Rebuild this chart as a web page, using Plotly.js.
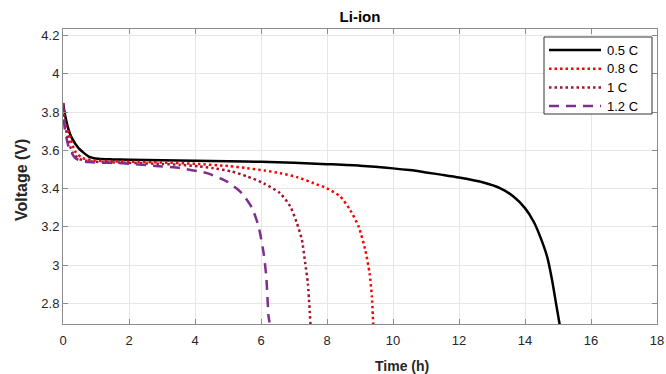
<!DOCTYPE html>
<html>
<head>
<meta charset="utf-8">
<script src="https://cdn.plot.ly/plotly-3.0.1.min.js"></script>
<style>html,body{margin:0;padding:0;background:#fff}#chart{width:666px;height:374px}</style>
</head>
<body>
<div id="chart"></div>
<script>
// Time (h) and voltage (V)
const t05 = [0, 0.07, 0.17, 0.27, 0.47, 0.78, 1.08, 1.5, 2, 3, 4, 5, 6, 7, 8, 9, 10, 10.5, 11, 11.5, 12, 12.74, 13.24, 13.65, 14.0, 14.26, 14.46, 14.67, 14.82, 14.94, 15.05];
const v05 = [3.848, 3.778, 3.708, 3.664, 3.612, 3.568, 3.556, 3.553, 3.551, 3.549, 3.546, 3.543, 3.54, 3.535, 3.528, 3.52, 3.506, 3.497, 3.485, 3.472, 3.458, 3.432, 3.403, 3.359, 3.298, 3.228, 3.149, 3.044, 2.922, 2.8, 2.69];

const t08 = [0, 0.05, 0.17, 0.37, 0.58, 0.9, 1.5, 2, 3, 4, 5, 5.58, 6.1, 6.58, 7.1, 7.6, 8.0, 8.4, 8.7, 8.96, 9.16, 9.29, 9.36, 9.4];
const v08 = [3.848, 3.76, 3.69, 3.594, 3.561, 3.548, 3.543, 3.541, 3.537, 3.53, 3.518, 3.507, 3.495, 3.481, 3.46, 3.428, 3.402, 3.359, 3.289, 3.201, 3.079, 2.957, 2.835, 2.69];

const t10 = [0, 0.05, 0.15, 0.3, 0.5, 0.8, 1.2, 2, 3, 3.56, 4.1, 4.56, 5.1, 5.58, 6.08, 6.58, 6.89, 7.09, 7.24, 7.34, 7.42, 7.5];
const v10 = [3.848, 3.75, 3.66, 3.585, 3.555, 3.543, 3.539, 3.535, 3.529, 3.525, 3.517, 3.507, 3.49, 3.464, 3.428, 3.376, 3.306, 3.219, 3.132, 3.01, 2.905, 2.69];

const t12 = [0, 0.05, 0.17, 0.37, 0.6, 1.0, 1.79, 2.8, 3.56, 4.36, 4.97, 5.42, 5.73, 5.93, 6.08, 6.16, 6.23, 6.26];
const v12 = [3.848, 3.72, 3.62, 3.56, 3.543, 3.537, 3.533, 3.519, 3.507, 3.481, 3.437, 3.376, 3.298, 3.2, 3.062, 2.94, 2.73, 2.70];

const seriesNames = ['0.5 C', '0.8 C', '1 C', '1.2 C'];
const xTicks = [0, 2, 4, 6, 8, 10, 12, 14, 16, 18];
const xTickText = ['0', '2', '4', '6', '8', '10', '12', '14', '16', '18'];
const yTicks = [2.8, 3, 3.2, 3.4, 3.6, 3.8, 4, 4.2];
const yTickText = ['2.8', '3', '3.2', '3.4', '3.6', '3.8', '4', '4.2'];

const FONT = 'Liberation Sans, Arial, Helvetica, sans-serif';
const AX = '#8c8c8c';
const W = 666, H = 374, ML = 63, MR = 9, MT = 29, MB = 50;
const PW = W - ML - MR, PH = H - MT - MB;
const px = x => (x - ML) / PW;          // pixel -> paper x
const py = y => 1 - (y - MT) / PH;      // pixel -> paper y

const styles = [
  {color: '#000000', width: 2.5},
  {color: '#ff0000', width: 2.5, dash: '2.5px,3px'},
  {color: '#a2142f', width: 2.5, dash: '2.5px,3px'},
  {color: '#7e2f8e', width: 2.5, dash: '10px,7px'}
];
const xs = [t05, t08, t10, t12], ys = [v05, v08, v10, v12];

const traces = xs.map((x, i) => ({
  x: x, y: ys[i], name: seriesNames[i], mode: 'lines',
  line: Object.assign({shape: 'spline', smoothing: 0.6}, styles[i]),
  showlegend: false, hoverinfo: 'skip'
}));

const axisCommon = {
  showline: true, linecolor: AX, linewidth: 1, mirror: 'ticks',
  ticks: 'inside', ticklen: 5, tickcolor: AX, tickwidth: 1,
  showgrid: true, gridcolor: '#e6e6e6', gridwidth: 1, zeroline: false,
  tickfont: {family: FONT, size: 13, color: '#262626'}
};

// Legend drawn as shapes + annotations (box at 544..652 x 37..114 px)
const shapes = [{
  type: 'rect', xref: 'paper', yref: 'paper',
  x0: px(544), x1: px(652), y0: py(114), y1: py(37),
  line: {color: '#333333', width: 1}, fillcolor: '#ffffff', layer: 'above'
}];
const annotations = [];
const rowY = [50, 68.7, 87.4, 106];
seriesNames.forEach((n, i) => {
  shapes.push({
    type: 'line', xref: 'paper', yref: 'paper',
    x0: px(549), x1: px(601), y0: py(rowY[i]), y1: py(rowY[i]),
    line: styles[i], layer: 'above'
  });
  annotations.push({
    text: n, xref: 'paper', yref: 'paper', x: px(605), y: py(rowY[i]),
    xanchor: 'left', yanchor: 'middle', showarrow: false,
    font: {family: FONT, size: 13, color: '#000'}
  });
});
// axis titles
annotations.push({
  text: '<b>Time (h)</b>', xref: 'paper', yref: 'paper', x: px(402), y: py(366),
  xanchor: 'center', yanchor: 'middle', showarrow: false,
  font: {family: FONT, size: 14, color: '#262626'}
});
annotations.push({
  text: '<b>Voltage (V)</b>', xref: 'paper', yref: 'paper', x: px(21), y: py(180),
  xanchor: 'center', yanchor: 'middle', showarrow: false, textangle: -90,
  font: {family: FONT, size: 16, color: '#262626'}
});

const layout = {
  width: W, height: H,
  margin: {l: ML, r: MR, t: MT, b: MB},
  paper_bgcolor: '#ffffff', plot_bgcolor: '#ffffff',
  font: {family: FONT, color: '#262626'},
  title: {text: '<b>Li-ion</b>', font: {family: FONT, size: 15, color: '#000'}, x: px(360), xref: 'paper', xanchor: 'center', y: 1 - 17/374, yanchor: 'middle', yref: 'container'},
  xaxis: Object.assign({}, axisCommon, {
    range: [0, 18], tickmode: 'array', tickvals: xTicks, ticktext: xTickText, ticklabelstandoff: 4
  }),
  yaxis: Object.assign({}, axisCommon, {
    range: [2.692, 4.235], tickmode: 'array', tickvals: yTicks, ticktext: yTickText
  }),
  shapes: shapes,
  annotations: annotations,
  showlegend: false
};

Plotly.newPlot('chart', traces, layout, {displayModeBar: false, staticPlot: true});
</script>
</body>
</html>
